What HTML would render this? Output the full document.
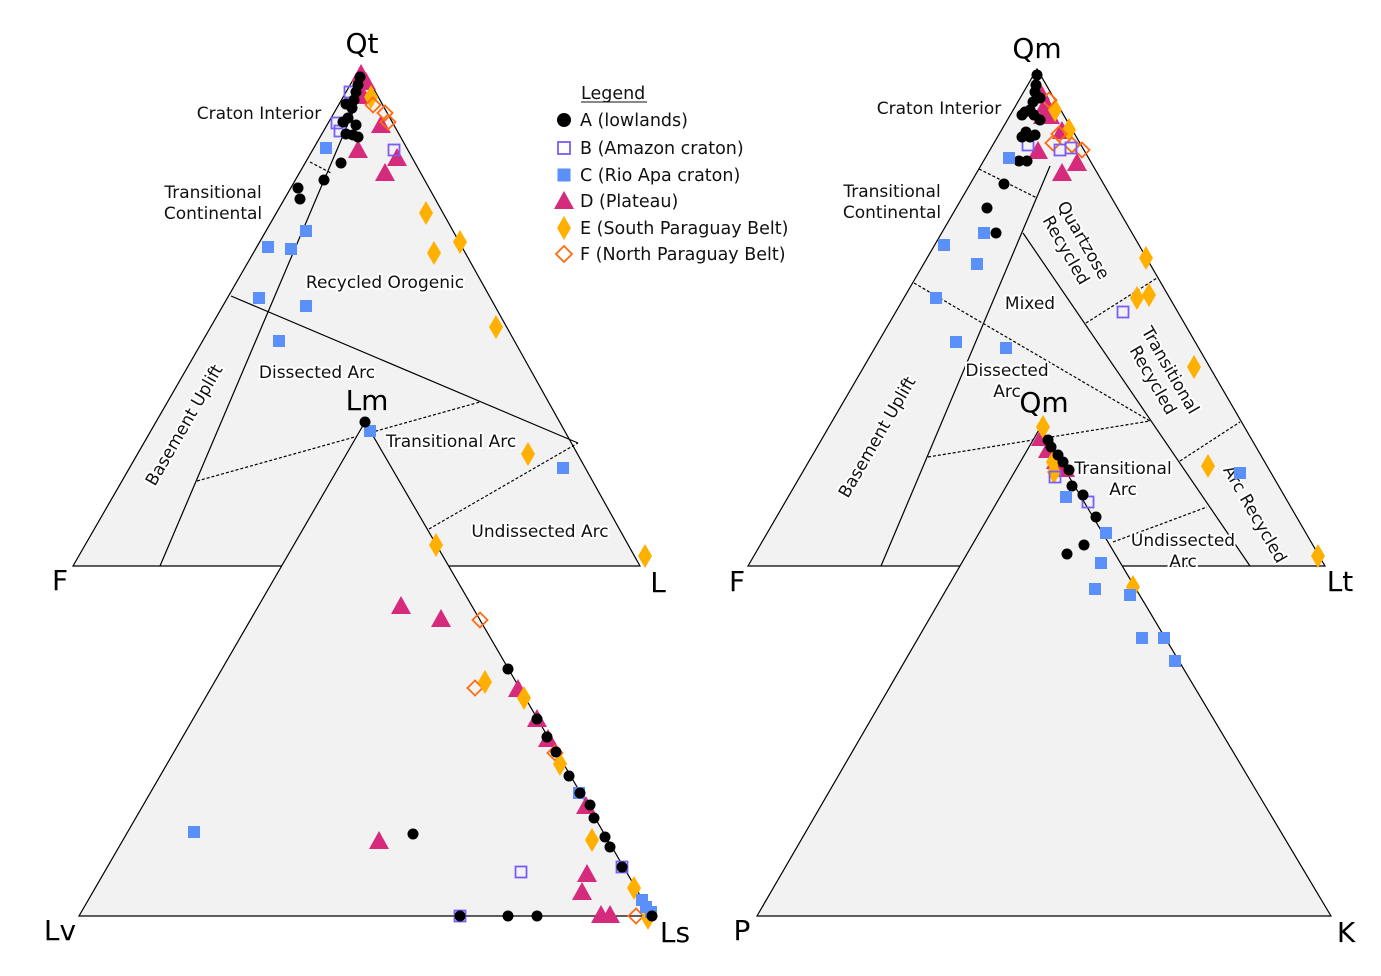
<!DOCTYPE html>
<html><head><meta charset="utf-8"><style>
html,body{margin:0;padding:0;background:#fff;}
svg{display:block;font-family:"DejaVu Sans","Liberation Sans",sans-serif;}
.lb{font-size:17px;fill:#111;paint-order:stroke;stroke:#fff;stroke-width:4px;stroke-linejoin:round;}
.cn{font-size:28px;fill:#000;}
.lg{font-size:17.5px;fill:#111;}
</style></head><body>
<svg width="1381" height="976" viewBox="0 0 1381 976" xmlns="http://www.w3.org/2000/svg">
<defs>
<circle id="A" r="5.5" fill="#000"/>
<rect id="B" x="-5.5" y="-5.5" width="11" height="11" fill="none" stroke="#7b5cf5" stroke-width="1.8"/>
<rect id="C" x="-6" y="-6" width="12" height="12" fill="#5b8ff9"/>
<polygon id="D" points="0,-10 10,8 -10,8" fill="#d62a7c"/>
<polygon id="E" points="0,-12 7,0 0,12 -7,0" fill="#ffb000"/>
<polygon id="F" points="0,-7.5 7.5,0 0,7.5 -7.5,0" fill="none" stroke="#ff6a13" stroke-width="1.8"/>
<circle id="AL" r="7" fill="#000"/>
<rect id="BL" x="-6" y="-6" width="12" height="12" fill="none" stroke="#7b5cf5" stroke-width="1.8"/>
<rect id="CL" x="-6.5" y="-6.5" width="13" height="13" fill="#5b8ff9"/>
<polygon id="DL" points="0,-10 10,8 -10,8" fill="#d62a7c"/>
<polygon id="EL" points="0,-12 7,0 0,12 -7,0" fill="#ffb000"/>
<polygon id="FL" points="0,-8 8,0 0,8 -8,0" fill="none" stroke="#ff6a13" stroke-width="1.8"/>
</defs>
<g stroke="#000" stroke-width="1.2" fill="none">
<polygon points="361,66 73,566 640,566" fill="#f2f2f2"/>
<line x1="160" y1="566" x2="356" y2="105"/>
<line x1="310" y1="162" x2="331" y2="173" stroke-dasharray="3,2"/>
<line x1="231" y1="296" x2="578" y2="443"/>
<line x1="197" y1="481" x2="480" y2="402" stroke-dasharray="3,2"/>
<line x1="429" y1="529" x2="578" y2="443" stroke-dasharray="3,2"/>
<polygon points="1037,69 748,566 1325,566" fill="#f2f2f2"/>
<line x1="881" y1="566" x2="1050" y2="166"/>
<line x1="979" y1="169" x2="1037" y2="198" stroke-dasharray="3,2"/>
<line x1="1023" y1="233" x2="1250" y2="566"/>
<line x1="914" y1="283" x2="1150" y2="421" stroke-dasharray="3,2"/>
<line x1="928" y1="457" x2="1150" y2="421" stroke-dasharray="3,2"/>
<line x1="1086" y1="323" x2="1157" y2="278" stroke-dasharray="3,2"/>
<line x1="1180" y1="461" x2="1240" y2="422" stroke-dasharray="3,2"/>
<line x1="1113" y1="542" x2="1207" y2="507" stroke-dasharray="3,2"/>
<polygon points="365,422 79,916 652,916" fill="#f2f2f2"/>
<polygon points="1040,428 757,916 1331,916" fill="#f2f2f2"/>
</g>
<text class="lb" x="259" y="119" text-anchor="middle">Craton Interior</text>
<text class="lb" x="213" y="198" text-anchor="middle">Transitional</text>
<text class="lb" x="213" y="219" text-anchor="middle">Continental</text>
<text class="lb" x="385" y="288" text-anchor="middle">Recycled Orogenic</text>
<text class="lb" x="317" y="378" text-anchor="middle">Dissected Arc</text>
<text class="lb" x="451" y="447" text-anchor="middle">Transitional Arc</text>
<text class="lb" x="540" y="537" text-anchor="middle">Undissected Arc</text>
<text class="lb" x="0" y="0" text-anchor="middle" transform="translate(189,428) rotate(-60)">Basement Uplift</text>
<text class="lb" x="939" y="114" text-anchor="middle">Craton Interior</text>
<text class="lb" x="892" y="197" text-anchor="middle">Transitional</text>
<text class="lb" x="892" y="218" text-anchor="middle">Continental</text>
<g transform="translate(1075,245) rotate(60)"><text class="lb" x="0" y="-4" text-anchor="middle">Quartzose</text><text class="lb" x="0" y="16" text-anchor="middle">Recycled</text></g>
<text class="lb" x="1030" y="309" text-anchor="middle">Mixed</text>
<text class="lb" x="1007" y="376" text-anchor="middle">Dissected</text>
<text class="lb" x="1007" y="397" text-anchor="middle">Arc</text>
<g transform="translate(1162,375) rotate(60)"><text class="lb" x="0" y="-4" text-anchor="middle">Transitional</text><text class="lb" x="0" y="16" text-anchor="middle">Recycled</text></g>
<text class="lb" x="0" y="0" text-anchor="middle" transform="translate(882,440) rotate(-60)">Basement Uplift</text>
<text class="lb" x="1123" y="474" text-anchor="middle">Transitional</text>
<text class="lb" x="1123" y="495" text-anchor="middle">Arc</text>
<text class="lb" x="0" y="0" text-anchor="middle" transform="translate(1250,517) rotate(60)">Arc Recycled</text>
<text class="lb" x="1183" y="546" text-anchor="middle">Undissected</text>
<text class="lb" x="1183" y="567" text-anchor="middle">Arc</text>
<text class="cn" x="362" y="53" text-anchor="middle">Qt</text>
<text class="cn" x="60" y="590" text-anchor="middle">F</text>
<text class="cn" x="658" y="592" text-anchor="middle">L</text>
<text class="cn" x="367" y="410" text-anchor="middle">Lm</text>
<text class="cn" x="60" y="940" text-anchor="middle">Lv</text>
<text class="cn" x="675" y="942" text-anchor="middle">Ls</text>
<text class="cn" x="1037" y="58" text-anchor="middle">Qm</text>
<text class="cn" x="737" y="591" text-anchor="middle">F</text>
<text class="cn" x="1340" y="591" text-anchor="middle">Lt</text>
<text class="cn" x="1044" y="412" text-anchor="middle">Qm</text>
<text class="cn" x="742" y="940" text-anchor="middle">P</text>
<text class="cn" x="1346" y="942" text-anchor="middle">K</text>
<text class="lg" x="581" y="99">Legend</text>
<line x1="581" y1="102" x2="647" y2="102" stroke="#111" stroke-width="1"/>
<use href="#AL" x="564" y="120"/><text class="lg" x="580" y="126">A (lowlands)</text>
<use href="#BL" x="564" y="148"/><text class="lg" x="580" y="154">B (Amazon craton)</text>
<use href="#CL" x="564" y="175"/><text class="lg" x="580" y="181">C (Rio Apa craton)</text>
<use href="#DL" x="564" y="201"/><text class="lg" x="580" y="207">D (Plateau)</text>
<use href="#EL" x="564" y="228"/><text class="lg" x="580" y="234">E (South Paraguay Belt)</text>
<use href="#FL" x="564" y="254"/><text class="lg" x="580" y="260">F (North Paraguay Belt)</text>
<g>
<use href="#D" x="361" y="74"/><use href="#D" x="366" y="82"/><use href="#D" x="363" y="96"/><use href="#D" x="381" y="125"/><use href="#D" x="358" y="150"/><use href="#D" x="397" y="158"/><use href="#D" x="385" y="173"/>
<use href="#E" x="371" y="97"/><use href="#E" x="426" y="213"/><use href="#E" x="460" y="242"/><use href="#E" x="434" y="253"/><use href="#E" x="496" y="327"/><use href="#E" x="528" y="454"/><use href="#E" x="436" y="545"/><use href="#E" x="645" y="556"/>
<use href="#F" x="373" y="105"/><use href="#F" x="385" y="113"/><use href="#F" x="388" y="122"/>
<use href="#B" x="350" y="92"/><use href="#B" x="337" y="123"/><use href="#B" x="340" y="131"/><use href="#B" x="394" y="150"/>
<use href="#A" x="360" y="77"/><use href="#A" x="358" y="85"/><use href="#A" x="356" y="92"/><use href="#A" x="354" y="100"/><use href="#A" x="352" y="108"/><use href="#A" x="346" y="104"/><use href="#A" x="348" y="118"/><use href="#A" x="343" y="122"/><use href="#A" x="356" y="125"/><use href="#A" x="353" y="135"/><use href="#A" x="346" y="134"/><use href="#A" x="358" y="137"/><use href="#A" x="341" y="163"/><use href="#A" x="324" y="180"/><use href="#A" x="298" y="188"/><use href="#A" x="300" y="199"/>
<use href="#C" x="326" y="148"/><use href="#C" x="306" y="231"/><use href="#C" x="268" y="247"/><use href="#C" x="291" y="249"/><use href="#C" x="259" y="298"/><use href="#C" x="306" y="306"/><use href="#C" x="279" y="341"/><use href="#C" x="370" y="431"/><use href="#C" x="563" y="468"/>
<use href="#A" x="365" y="422"/>
</g>
<g>
<use href="#D" x="401" y="606"/><use href="#D" x="441" y="619"/><use href="#D" x="518" y="689"/><use href="#D" x="537" y="719"/><use href="#D" x="548" y="739"/><use href="#D" x="586" y="806"/><use href="#D" x="379" y="841"/><use href="#D" x="587" y="874"/><use href="#D" x="582" y="892"/><use href="#D" x="601" y="915"/><use href="#D" x="610" y="915"/>
<use href="#F" x="480" y="620"/><use href="#F" x="475" y="688"/><use href="#F" x="555" y="753"/><use href="#F" x="636" y="916"/>
<use href="#E" x="485" y="682"/><use href="#E" x="524" y="698"/><use href="#E" x="560" y="764"/><use href="#E" x="592" y="840"/><use href="#E" x="634" y="888"/><use href="#E" x="648" y="918"/>
<use href="#C" x="579" y="793"/><use href="#C" x="642" y="900"/><use href="#C" x="646" y="907"/><use href="#C" x="651" y="912"/><use href="#C" x="194" y="832"/>
<use href="#B" x="521" y="872"/><use href="#B" x="622" y="867"/><use href="#B" x="460" y="916"/>
<use href="#A" x="508" y="669"/><use href="#A" x="537" y="719"/><use href="#A" x="547" y="737"/><use href="#A" x="556" y="752"/><use href="#A" x="569" y="776"/><use href="#A" x="580" y="793"/><use href="#A" x="590" y="805"/><use href="#A" x="594" y="818"/><use href="#A" x="605" y="837"/><use href="#A" x="610" y="847"/><use href="#A" x="622" y="867"/><use href="#A" x="652" y="916"/><use href="#A" x="413" y="834"/><use href="#A" x="508" y="916"/><use href="#A" x="537" y="916"/><use href="#A" x="460" y="916"/>
</g>
<g>
<use href="#D" x="1040" y="92"/><use href="#D" x="1046" y="104"/><use href="#D" x="1043" y="116"/><use href="#D" x="1050" y="116"/><use href="#D" x="1062" y="131"/><use href="#D" x="1038" y="151"/><use href="#D" x="1077" y="163"/><use href="#D" x="1062" y="173"/>
<use href="#E" x="1055" y="110"/><use href="#E" x="1069" y="130"/><use href="#E" x="1146" y="258"/><use href="#E" x="1137" y="298"/><use href="#E" x="1149" y="295"/><use href="#E" x="1194" y="367"/><use href="#E" x="1208" y="466"/><use href="#E" x="1318" y="556"/>
<use href="#F" x="1049" y="100"/><use href="#F" x="1059" y="134"/><use href="#F" x="1072" y="145"/><use href="#F" x="1082" y="150"/><use href="#F" x="1053" y="143"/>
<use href="#B" x="1028" y="145"/><use href="#B" x="1060" y="150"/><use href="#B" x="1071" y="148"/><use href="#B" x="1123" y="312"/>
<use href="#A" x="1037" y="75"/><use href="#A" x="1036" y="85"/><use href="#A" x="1035" y="92"/><use href="#A" x="1040" y="98"/><use href="#A" x="1033" y="102"/><use href="#A" x="1030" y="110"/><use href="#A" x="1022" y="115"/><use href="#A" x="1034" y="115"/><use href="#A" x="1040" y="120"/><use href="#A" x="1025" y="112"/><use href="#A" x="1026" y="132"/><use href="#A" x="1035" y="135"/><use href="#A" x="1030" y="137"/><use href="#A" x="1022" y="137"/><use href="#A" x="1019" y="161"/><use href="#A" x="1027" y="161"/><use href="#A" x="1004" y="184"/><use href="#A" x="987" y="208"/><use href="#A" x="996" y="233"/>
<use href="#C" x="1009" y="158"/><use href="#C" x="944" y="245"/><use href="#C" x="984" y="233"/><use href="#C" x="977" y="264"/><use href="#C" x="936" y="298"/><use href="#C" x="956" y="342"/><use href="#C" x="1006" y="348"/><use href="#C" x="1240" y="473"/>
</g>
<g>
<use href="#D" x="1041" y="438"/><use href="#D" x="1048" y="450"/><use href="#D" x="1056" y="461"/><use href="#D" x="1065" y="469"/>
<use href="#E" x="1043" y="427"/><use href="#E" x="1053" y="462"/><use href="#E" x="1054" y="472"/><use href="#E" x="1133" y="587"/>
<use href="#B" x="1055" y="477"/><use href="#B" x="1088" y="502"/>
<use href="#A" x="1048" y="440"/><use href="#A" x="1051" y="447"/><use href="#A" x="1058" y="455"/><use href="#A" x="1063" y="462"/><use href="#A" x="1069" y="470"/><use href="#A" x="1072" y="486"/><use href="#A" x="1083" y="495"/><use href="#A" x="1096" y="517"/><use href="#A" x="1084" y="545"/><use href="#A" x="1067" y="554"/>
<use href="#C" x="1066" y="497"/><use href="#C" x="1106" y="533"/><use href="#C" x="1101" y="563"/><use href="#C" x="1095" y="589"/><use href="#C" x="1130" y="595"/><use href="#C" x="1142" y="638"/><use href="#C" x="1164" y="638"/><use href="#C" x="1175" y="661"/>
</g>
</svg>
</body></html>
